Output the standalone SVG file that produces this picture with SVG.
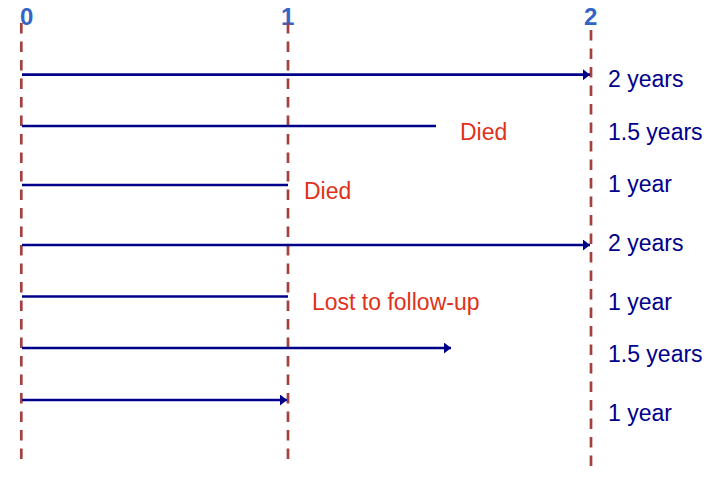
<svg xmlns="http://www.w3.org/2000/svg" width="710" height="489" viewBox="0 0 710 489">
<style>
.axis{stroke:#a4413f;stroke-width:2.7;stroke-dasharray:10.5 8;fill:none}
.line{stroke:#000088;stroke-width:2.7;fill:none}
.tick{font-family:"Liberation Sans",Arial,sans-serif;font-weight:bold;font-size:24px;fill:#3465c4}
.dur{font-family:"Liberation Sans",Arial,sans-serif;font-size:23px;fill:#00008c}
.ev{font-family:"Liberation Sans",Arial,sans-serif;font-size:23px;fill:#e0321a}
</style>
<defs>
<marker id="arr" markerUnits="userSpaceOnUse" markerWidth="8" markerHeight="12" refX="7" refY="5.5" orient="auto">
<path d="M0,0 L7,5.5 L0,11 z" fill="#000088"/>
</marker>
</defs>
<g id="axes">
<text class="tick" x="20" y="25">0</text>
<text class="tick" x="281" y="25">1</text>
<text class="tick" x="584" y="25">2</text>
<line class="axis" x1="21.3" y1="23" x2="21.3" y2="462"/>
<line class="axis" x1="288" y1="23" x2="288" y2="460"/>
<line class="axis" x1="591" y1="30" x2="591" y2="466"/>
</g>
<g id="connectors">
<line class="line" x1="22" y1="74.7" x2="590" y2="74.7" marker-end="url(#arr)"/>
<line class="line" x1="22" y1="126" x2="436" y2="126"/>
<line class="line" x1="22" y1="185" x2="288" y2="185"/>
<line class="line" x1="22" y1="245" x2="590" y2="245" marker-end="url(#arr)"/>
<line class="line" x1="22" y1="296.5" x2="288" y2="296.5"/>
<line class="line" x1="22" y1="348" x2="451" y2="348" marker-end="url(#arr)"/>
<line class="line" x1="22" y1="400" x2="287" y2="400" marker-end="url(#arr)"/>
</g>
<g id="row1"><text class="dur" x="608" y="87">2 years</text></g>
<g id="row2"><text class="ev" x="460" y="140">Died</text><text class="dur" x="608" y="140">1.5 years</text></g>
<g id="row3"><text class="ev" x="304" y="199">Died</text><text class="dur" x="608" y="192">1 year</text></g>
<g id="row4"><text class="dur" x="608" y="251">2 years</text></g>
<g id="row5"><text class="ev" x="312" y="310">Lost to follow-up</text><text class="dur" x="608" y="310">1 year</text></g>
<g id="row6"><text class="dur" x="608" y="362">1.5 years</text></g>
<g id="row7"><text class="dur" x="608" y="421">1 year</text></g>
</svg>
